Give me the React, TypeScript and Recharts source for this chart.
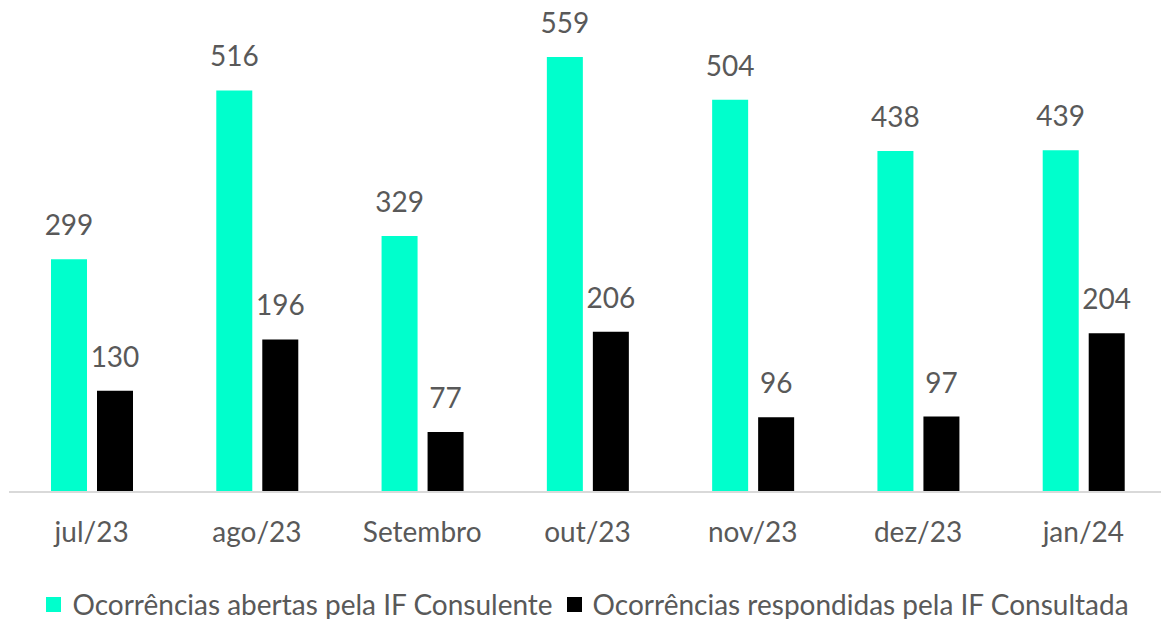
import { BarChart, Bar, XAxis, YAxis, LabelList, Legend } from "recharts";

const months = ["jul/23", "ago/23", "Setembro", "out/23", "nov/23", "dez/23", "jan/24"];
const abertas = [299, 516, 329, 559, 504, 438, 439];
const respondidas = [130, 196, 77, 206, 96, 97, 204];

const seriesNames = [
  "Ocorrências abertas pela IF Consulente",
  "Ocorrências respondidas pela IF Consultada",
];

const data = months.map((m, i) => ({ month: m, abertas: abertas[i], respondidas: respondidas[i] }));

const FONT = "Lato, 'Open Sans', sans-serif";
const TXT = "#595959";
const FS = 28;

const LegendContent = () => (
  <div style={{ display: "flex", justifyContent: "center", alignItems: "center", gap: 14, fontFamily: FONT, fontSize: 28, color: TXT, paddingTop: 25, lineHeight: "34px", whiteSpace: "nowrap" }}>
    {seriesNames.map((n, i) => (
      <div key={n} style={{ display: "flex", alignItems: "center", gap: 11 }}>
        <div style={{ width: 15, height: 15, background: i === 0 ? "#00FFCC" : "#000" }} />
        <span>{n}</span>
      </div>
    ))}
  </div>
);

export default function App() {
  return (
    <div style={{ position: "absolute", left: 0, top: 0, width: 1161, height: 619, background: "#fff" }}>
      <BarChart width={1161} height={619} data={data} margin={{ top: 25, right: -5, left: 9, bottom: 0 }} barSize={36} barGap={10}>
        <XAxis
          dataKey="month"
          height={70}
          tickLine={false}
          tickSize={0}
          tickMargin={30}
          axisLine={{ stroke: "#d9d9d9", strokeWidth: 2 }}
          tick={{ fill: TXT, fontSize: FS, fontFamily: FONT }}
          interval={0}
        />
        <YAxis hide domain={[0, 600]} />
        <Legend verticalAlign="bottom" height={57} content={<LegendContent />} />
        <Bar dataKey="abertas" fill="#00FFCC" isAnimationActive={false}>
          <LabelList dataKey="abertas" position="top" offset={24} fill={TXT} fontSize={FS} fontFamily={FONT} />
        </Bar>
        <Bar dataKey="respondidas" fill="#000000" isAnimationActive={false}>
          <LabelList dataKey="respondidas" position="top" offset={24} fill={TXT} fontSize={FS} fontFamily={FONT} />
        </Bar>
      </BarChart>
    </div>
  );
}
